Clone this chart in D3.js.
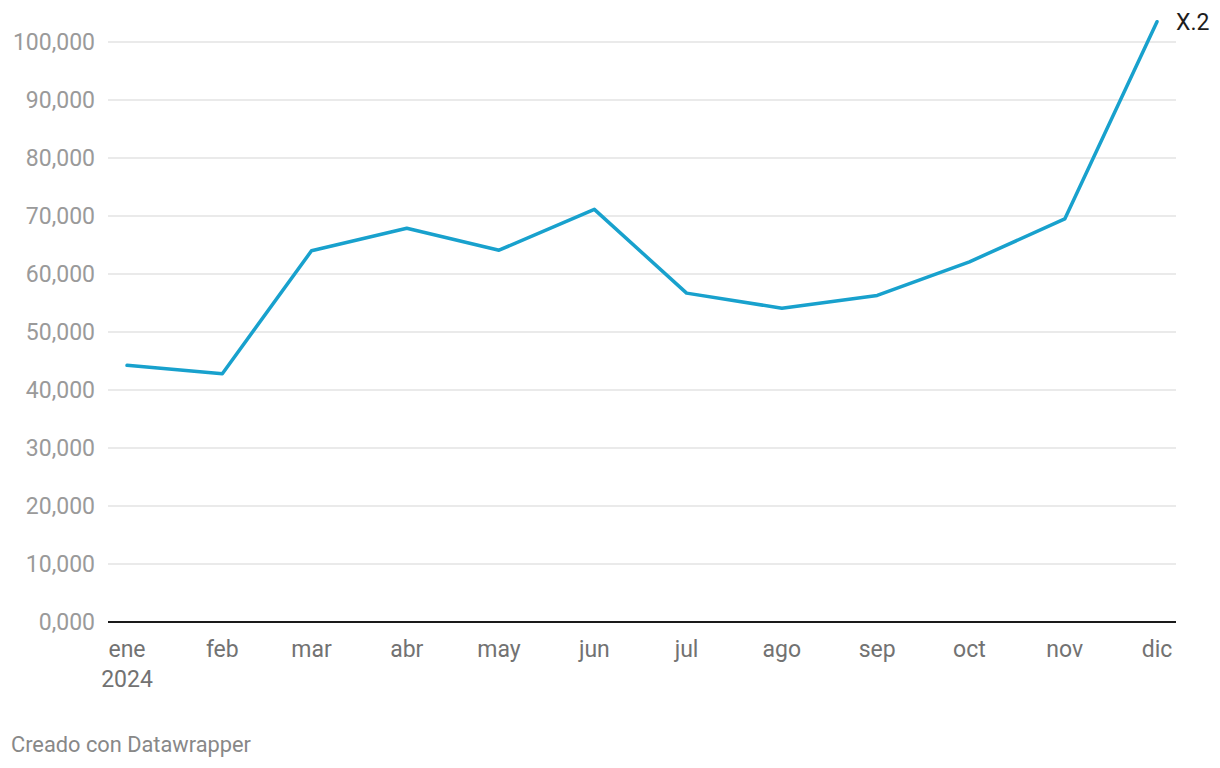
<!DOCTYPE html>
<html>
<head>
<meta charset="utf-8">
<script src="https://cdn.jsdelivr.net/npm/d3@7"></script>
<style>
  html, body { margin: 0; padding: 0; background: #fff; }
  svg { display: block; font-family: Roboto, "Noto Sans", sans-serif; }
</style>
</head>
<body>
<svg id="chart" width="1220" height="768"></svg>
<script>
// ---- data ----
const months = ["2024-01-01","2024-02-01","2024-03-01","2024-04-01","2024-05-01","2024-06-01",
                "2024-07-01","2024-08-01","2024-09-01","2024-10-01","2024-11-01","2024-12-01"];
const monthLabels = ["ene","feb","mar","abr","may","jun","jul","ago","sep","oct","nov","dic"];
const values = [44250, 42800, 64000, 67900, 64100, 71150, 56700, 54100, 56300, 62100, 69500, 103500];
const yTicks = [0, 10000, 20000, 30000, 40000, 50000, 60000, 70000, 80000, 90000, 100000];
const yTickLabels = ["0,000","10,000","20,000","30,000","40,000","50,000","60,000","70,000","80,000","90,000","100,000"];
const seriesName = "X.2";
const yearLabel = "2024";
const credit = "Creado con Datawrapper";

// ---- layout ----
const svg = d3.select("#chart");
const plotLeft = 108, plotRight = 1176;
const parse = d3.timeParse("%Y-%m-%d");
const dates = months.map(parse);

const x = d3.scaleTime()
  .domain([dates[0], dates[dates.length - 1]])
  .range([127, 1157]);
const y = d3.scaleLinear().domain([0, 100000]).range([622, 42]);

// gridlines
svg.append("g").selectAll("line")
  .data(yTicks.filter(d => d !== 0))
  .join("line")
  .attr("x1", plotLeft).attr("x2", plotRight)
  .attr("y1", d => y(d)).attr("y2", d => y(d))
  .attr("stroke", "#e3e3e3").attr("stroke-width", 1.3);

// y labels
svg.append("g").selectAll("text")
  .data(yTicks)
  .join("text")
  .attr("x", 95)
  .attr("y", d => y(d) + 8)
  .attr("text-anchor", "end")
  .attr("font-size", 23)
  .attr("fill", "#9a9a9a")
  .text((d, i) => yTickLabels[i]);

// baseline
svg.append("line")
  .attr("x1", plotLeft).attr("x2", plotRight)
  .attr("y1", y(0)).attr("y2", y(0))
  .attr("stroke", "#1a1a1a").attr("stroke-width", 2);

// x labels
const xl = svg.append("g");
xl.selectAll("text.m")
  .data(dates)
  .join("text")
  .attr("class", "m")
  .attr("x", d => x(d))
  .attr("y", 657)
  .attr("text-anchor", "middle")
  .attr("font-size", 23)
  .attr("fill", "#727272")
  .text((d, i) => monthLabels[i]);
xl.append("text")
  .attr("x", x(dates[0]))
  .attr("y", 687)
  .attr("text-anchor", "middle")
  .attr("font-size", 23)
  .attr("fill", "#727272")
  .text(yearLabel);

// line
const data = dates.map((d, i) => ({ date: d, value: values[i] }));
svg.append("path")
  .datum(data)
  .attr("fill", "none")
  .attr("stroke", "#18a1cd")
  .attr("stroke-width", 3.5)
  .attr("stroke-linejoin", "round")
  .attr("stroke-linecap", "round")
  .attr("d", d3.line().x(d => x(d.date)).y(d => y(d.value)));

// series label
const last = data[data.length - 1];
svg.append("text")
  .attr("x", x(last.date) + 19)
  .attr("y", y(last.value) + 8.5)
  .attr("font-size", 23)
  .attr("fill", "#1d1d1d")
  .text(seriesName);

// credit
svg.append("text")
  .attr("x", 11)
  .attr("y", 752)
  .attr("font-size", 21.8)
  .attr("fill", "#888")
  .text(credit);
</script>
</body>
</html>
